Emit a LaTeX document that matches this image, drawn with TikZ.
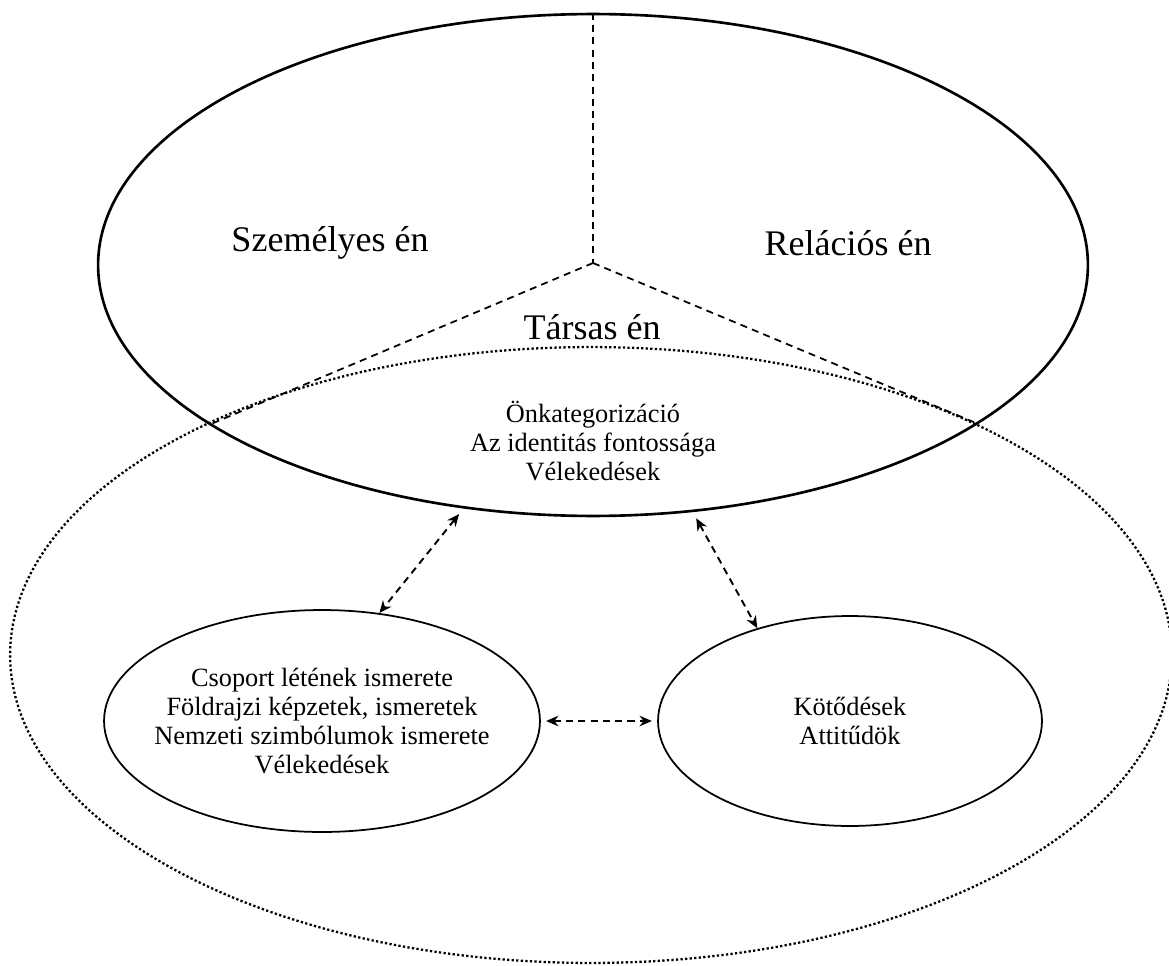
\documentclass[tikz,border=0pt]{standalone}
\usepackage{fontspec}
\setmainfont{Liberation Serif}
\usetikzlibrary{arrows.meta,positioning,shapes.geometric}
\tikzset{
  selfellipse/.style={
    ellipse, draw=black, line width=1.5pt, inner sep=0pt,
    minimum width=19.8cm, minimum height=10.04cm
  },
  socialellipse/.style={
    ellipse, draw=black, line width=1.3pt, dash pattern=on 1.3pt off 1.3pt,
    inner sep=0pt, minimum width=23.24cm, minimum height=12.32cm
  },
  partellipse/.style={
    ellipse, draw=black, line width=1pt, inner sep=0pt
  },
  divline/.style={dash pattern=on 4pt off 3pt, line width=1pt},
  linkarrow/.style={
    {Stealth[length=7pt,width=6pt]}-{Stealth[length=7pt,width=6pt]},
    dash pattern=on 4pt off 3pt, line width=1.1pt
  },
  bigtext/.style={font=\fontsize{20.5}{24}\selectfont},
  smalltext/.style={font=\fontsize{15}{16.5}\selectfont, align=center},
}
\begin{document}
\begin{tikzpicture}[x=0.02cm, y=-0.02cm]
    \useasboundingbox (0,0) rectangle (1169,966);
    % outer ellipses
    \node[socialellipse] (social) at (591,655) {};
    \node[selfellipse] (self) at (593,265) {};
    \coordinate (hub) at (593,263);
    \coordinate (cutl) at (211,424);
    \coordinate (cutr) at (976,423);
    \draw[divline] (self.north) -- (hub);
    \draw[divline] (hub) -- (cutl);
    \draw[divline] (hub) -- (cutr);
    \node[bigtext] (personal) at (330,243) {Személyes én};
    \node[bigtext] (relational) at (848,243) {Relációs én};
    \node[bigtext] (collective) at (592,327) {Társas én};
    \node[smalltext] (core) at (593,441) {Önkategorizáció\\Az identitás fontossága\\Vélekedések};
    % inner ellipses
    \node[partellipse, minimum width=8.72cm, minimum height=4.44cm] (knowledge) at (322,721) {};
    \node[smalltext] (knowtext) at (knowledge) {Csoport létének ismerete\\Földrajzi képzetek, ismeretek\\Nemzeti szimbólumok ismerete\\Vélekedések};
    \node[partellipse, minimum width=7.68cm, minimum height=4.2cm] (affect) at (850,721) {};
    \node[smalltext] (affecttext) at (affect) {Kötődések\\Attitűdök};
    \draw[linkarrow, shorten <=4pt] (self.242.6) -- (knowledge.62.6);
    \draw[linkarrow, shorten <=4pt] (self.292.3) -- (affect.135);
    \draw[linkarrow, shorten <=3pt, shorten >=3pt] (knowledge.east) -- (affect.west);
\end{tikzpicture}
\end{document}
